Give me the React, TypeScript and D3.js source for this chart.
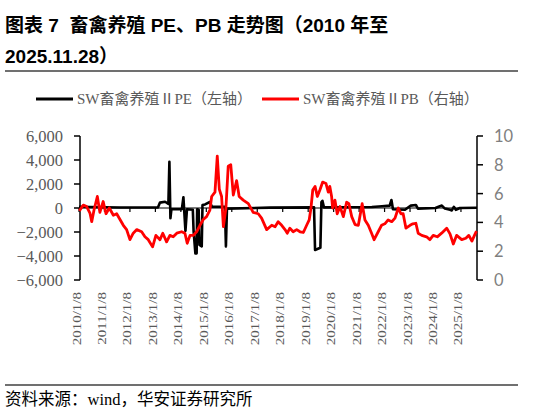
import * as d3 from 'd3';
import { useMemo } from 'react';

// x positions are in axis-tick units (one tick per "2010/1/8", "2011/1/8", ...)
const yearLabels = [
  '2010/1/8', '2011/1/8', '2012/1/8', '2013/1/8', '2014/1/8', '2015/1/8',
  '2016/1/8', '2017/1/8', '2018/1/8', '2019/1/8', '2020/1/8', '2021/1/8',
  '2022/1/8', '2023/1/8', '2024/1/8', '2025/1/8',
];
const xEnd = 2025.63; // 2025/11/28

const peTicks = [6000, 4000, 2000, 0, -2000, -4000, -6000];
const pbTicks = [10, 8, 6, 4, 2, 0];

const pePos = [
  2010.0, 2010.43, 2011.61, 2013.1, 2013.18, 2013.38, 2013.51, 2013.55, 2013.59, 2013.63,
  2014.04, 2014.1, 2014.18, 2014.24, 2014.47, 2014.5, 2014.57, 2014.62, 2014.64, 2014.7,
  2014.73, 2014.82, 2014.85, 2014.95, 2015.14, 2015.22, 2015.73, 2015.77, 2015.81, 2017.5,
  2019.23, 2019.27, 2019.43, 2019.48, 2019.52, 2019.56, 2019.62, 2021.5, 2021.9, 2022.2,
  2022.27, 2022.33, 2022.8, 2023.03, 2023.23, 2023.31, 2024.0, 2024.17, 2024.25, 2024.37,
  2024.57, 2024.64, 2024.72, 2024.8, 2024.96, 2025.63,
];
const peVal = [
  100, 80, 40, 50, 450, 520, 350, 3860, -860, -100,
  -100, 900, -1900, -100, -150, -1900, -3780, -3780, -100, -150,
  -3080, -3200, 250, 300, 500, 100, 100, -3200, -50, 30,
  50, -3500, -3360, -3300, 500, 600, 50, 80, 150, 200,
  670, -100, -150, 200, 250, -50, 0, 150, 200, -50,
  -150, -200, 100, -150, 0, 20,
];

const pbPos = [
  2010.01, 2010.17, 2010.3, 2010.43, 2010.5, 2010.59, 2010.72, 2010.82, 2010.95, 2011.06,
  2011.19, 2011.35, 2011.48, 2011.61, 2011.74, 2011.87, 2012.0, 2012.13, 2012.27, 2012.46,
  2012.59, 2012.72, 2012.89, 2013.02, 2013.18, 2013.29, 2013.44, 2013.57, 2013.7, 2013.84,
  2014.03, 2014.16, 2014.25, 2014.36, 2014.49, 2014.62, 2014.75, 2014.88, 2015.01, 2015.14,
  2015.21, 2015.34, 2015.43, 2015.51, 2015.6, 2015.67, 2015.77, 2015.86, 2015.96, 2016.06,
  2016.19, 2016.29, 2016.45, 2016.65, 2016.84, 2017.04, 2017.17, 2017.37, 2017.57, 2017.7,
  2017.82, 2017.96, 2018.09, 2018.18, 2018.28, 2018.41, 2018.55, 2018.68, 2018.81, 2018.94,
  2019.04, 2019.11, 2019.18, 2019.27, 2019.36, 2019.46, 2019.57, 2019.7, 2019.79, 2019.85,
  2019.92, 2019.96, 2020.05, 2020.14, 2020.25, 2020.38, 2020.51, 2020.6, 2020.71, 2020.84,
  2020.97, 2021.12, 2021.23, 2021.36, 2021.49, 2021.59, 2021.75, 2021.88, 2022.01, 2022.14,
  2022.28, 2022.41, 2022.54, 2022.64, 2022.73, 2022.84, 2023.0, 2023.11, 2023.23, 2023.32,
  2023.46, 2023.65, 2023.78, 2023.91, 2024.07, 2024.24, 2024.44, 2024.57, 2024.7, 2024.83,
  2025.03, 2025.19, 2025.31, 2025.43, 2025.53, 2025.61,
];
const pbVal = [
  4.8, 5.2, 5.1, 4.65, 4.05, 4.86, 5.8, 4.7, 5.45, 4.6,
  5.0, 4.5, 4.6, 4.2, 3.8, 3.5, 2.8, 3.25, 3.5, 3.35,
  3.0, 2.8, 2.3, 3.1, 2.8, 3.25, 2.65, 3.1, 3.0, 3.25,
  3.35, 3.25, 2.55, 3.1, 3.1, 3.35, 3.8, 4.2, 4.4, 4.86,
  5.8, 6.1, 8.6, 6.3, 5.8, 3.7, 5.0, 7.9, 8.0, 5.9,
  6.9, 5.8, 5.55, 5.3, 4.7, 4.6, 4.3, 3.5, 3.8, 3.7,
  4.05, 3.8, 3.5, 3.25, 3.6, 3.35, 3.5, 3.35, 3.3, 3.8,
  4.17, 5.0, 6.25, 6.5, 5.8, 6.25, 6.8, 6.7, 6.1, 6.5,
  5.8, 5.0, 5.55, 4.6, 5.1, 4.4, 5.4, 5.3, 4.4, 3.85,
  3.8, 5.3, 4.17, 3.8, 3.25, 2.8, 3.35, 3.8, 3.9, 4.17,
  4.05, 4.3, 5.0, 4.6, 4.6, 3.6, 3.8, 3.9, 3.94, 3.25,
  3.1, 3.0, 2.8, 3.1, 3.0, 3.25, 3.6, 3.2, 2.5, 3.1,
  2.8, 2.9, 3.1, 2.7, 3.1, 3.4,
];

const serif = "'Liberation Serif', 'Times New Roman', 'Noto Sans CJK SC', serif";
const sans = "'Liberation Sans', Arial, 'Noto Sans CJK SC', sans-serif";

export default function App() {
  const width = 541;
  const height = 415;
  const left = 79;
  const right = 477;
  const top = 136;
  const bottom = 280;

  const xScale = useMemo(
    () => d3.scaleLinear().domain([2010, xEnd]).range([left, right]),
    []
  );
  const yPe = useMemo(
    () => d3.scaleLinear().domain([-6000, 6000]).range([bottom, top]),
    []
  );
  const yPb = useMemo(
    () => d3.scaleLinear().domain([0, 10]).range([bottom, top]),
    []
  );

  const pePath = useMemo(() => {
    const line = d3
      .line<number>()
      .x((_, i) => xScale(pePos[i]))
      .y((d) => yPe(d));
    return line(peVal);
  }, []);

  const pbPath = useMemo(() => {
    const line = d3
      .line<number>()
      .x((_, i) => xScale(pbPos[i]))
      .y((d) => yPb(d));
    return line(pbVal);
  }, []);

  const zeroY = yPe(0);

  return (
    <div style={{ position: 'absolute', left: 0, top: 0 }}>
      <svg width={width} height={height} style={{ display: 'block', background: '#fff' }}>
        {/* title */}
        <text
          x={5}
          y={32}
          fontFamily={sans}
          fontWeight='bold'
          fontSize={19}
          fill='#000'
          style={{ whiteSpace: 'pre' }}
        >
          {'图表 7  畜禽养殖 PE、PB 走势图（2010 年至'}
        </text>
        <text x={5} y={63} fontFamily={sans} fontWeight='bold' fontSize={19} fill='#000'>
          2025.11.28）
        </text>
        <line x1={5} x2={518} y1={71} y2={71} stroke='#404040' strokeWidth={1.3} />

        {/* legend */}
        <line x1={36} x2={73} y1={99} y2={99} stroke='#000' strokeWidth={3} />
        <text x={77} y={104} fontFamily={serif} fontSize={15} fill='#595959'>
          SW畜禽养殖ⅡPE（左轴）
        </text>
        <line x1={262} x2={299} y1={99} y2={99} stroke='#ff0000' strokeWidth={3} />
        <text x={303} y={104} fontFamily={serif} fontSize={15} fill='#595959'>
          SW畜禽养殖ⅡPB（右轴）
        </text>

        {/* left axis */}
        <line x1={left + 1} x2={left + 1} y1={top} y2={bottom} stroke='#000' strokeWidth={1.5} />
        {peTicks.map((t) => (
          <g key={`pe${t}`}>
            <line x1={left - 5} x2={left + 1} y1={yPe(t)} y2={yPe(t)} stroke='#000' strokeWidth={1.5} />
            <text
              x={63}
              y={yPe(t)}
              dy='0.35em'
              textAnchor='end'
              fontFamily={serif}
              fontSize={16.5}
              fill='#595959'
            >
              {d3.format(',')(t)}
            </text>
          </g>
        ))}

        {/* right axis */}
        <line x1={right} x2={right} y1={top} y2={bottom} stroke='#000' strokeWidth={1.5} />
        {pbTicks.map((t) => (
          <g key={`pb${t}`}>
            <line x1={right} x2={right + 6} y1={yPb(t)} y2={yPb(t)} stroke='#000' strokeWidth={1.5} />
            <text
              x={494}
              y={yPb(t)}
              dy='0.36em'
              fontFamily="Lato, 'Open Sans', sans-serif"
              fontSize={16.5}
              fill='#7f7f7f'
            >
              {t}
            </text>
          </g>
        ))}

        {/* category axis at PE = 0 */}
        <line x1={left} x2={right} y1={zeroY} y2={zeroY} stroke='#000' strokeWidth={1.2} />
        {yearLabels.map((label, i) => {
          const x = xScale(2010 + i);
          return (
            <g key={label}>
              <line x1={x} x2={x} y1={zeroY} y2={zeroY + 4} stroke='#000' strokeWidth={1.2} />
              <text
                transform={`translate(${x + 1.5},292) rotate(-90) scale(1,0.78)`}
                textAnchor='end'
                fontFamily={serif}
                fontSize={15}
                fill='#595959'
              >
                {label}
              </text>
            </g>
          );
        })}

        {/* series */}
        <path
          d={pePath ? pePath : 'M0 0'}
          fill='none'
          stroke='#000'
          strokeWidth={2.6}
          strokeLinejoin='round'
        />
        <path
          d={pbPath ? pbPath : 'M0 0'}
          fill='none'
          stroke='#ff0000'
          strokeWidth={2.8}
          strokeLinejoin='round'
        />

        {/* footer */}
        <line x1={5} x2={518} y1={385} y2={385} stroke='#404040' strokeWidth={1.3} />
        <text x={5} y={405} fontFamily={serif} fontSize={16.5} fill='#000'>
          资料来源：wind，华安证券研究所
        </text>
      </svg>
    </div>
  );
}
